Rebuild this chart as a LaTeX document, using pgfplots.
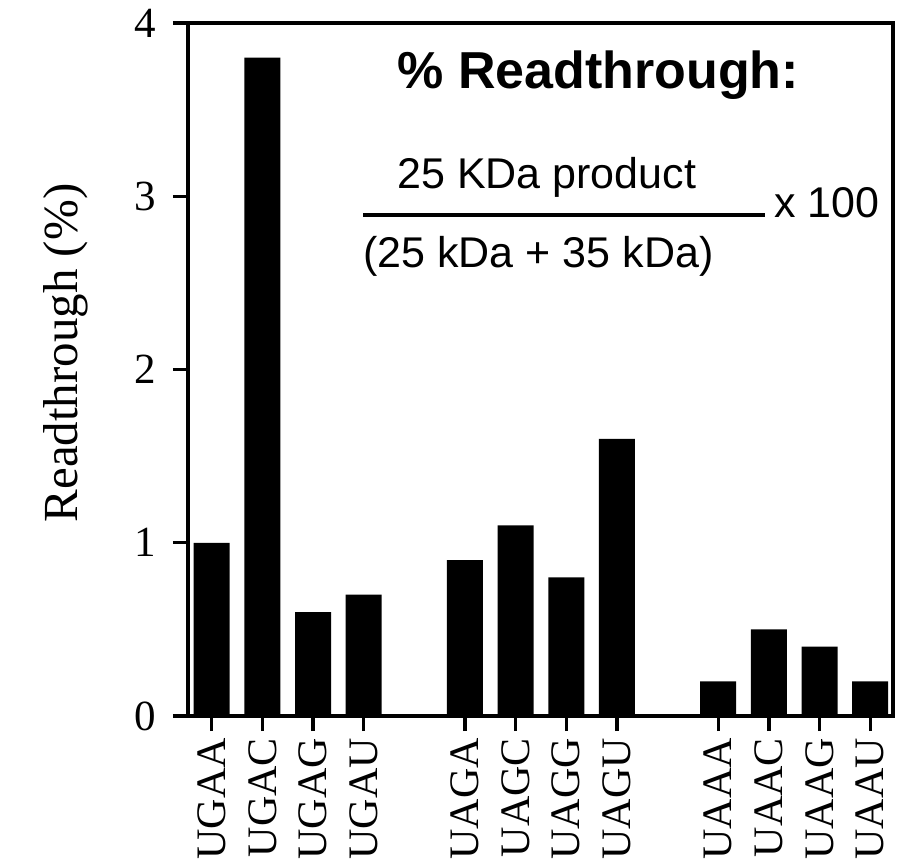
\documentclass[border=0pt]{standalone}
\usepackage{pgfplots}
\pgfplotsset{compat=1.18}
\usepackage{fontspec}
\setmainfont{Liberation Serif}
\newfontfamily\arial{Liberation Sans}

\begin{document}
\begin{tikzpicture}
\useasboundingbox (-94pt,-73.5pt) rectangle (355.5pt,358pt);
\begin{axis}[
  at={(0pt,0pt)}, anchor=south west,
  scale only axis,
  width=352.5pt, height=346.5pt,
  xmin=-0.468, xmax=13.45, ymin=0, ymax=4,
  enlargelimits=false,
  ybar, bar width=18pt,
  axis line style={line width=1.6pt},
  xtick=data,
  xticklabels={UGAA,UGAC,UGAG,UGAU,UAGA,UAGC,UAGG,UAGU,UAAA,UAAC,UAAG,UAAU},
  ytick={0,1,2,3,4},
  xtick pos=lower, ytick pos=left,
  tick align=outside, major tick length=7.5pt,
  tick style={line width=1.6pt, black},
  xticklabel style={rotate=90, anchor=east, font=\fontsize{21}{21}\selectfont},
  yticklabel style={font=\fontsize{21.5}{21.5}\selectfont, xshift=-5pt},
  /pgf/number format/assume math mode=true,
]
\addplot[fill=black, draw=none] coordinates {(0,1.0) (1,3.8) (2,0.6) (3,0.7) (5,0.9) (6,1.1) (7,0.8) (8,1.6) (10,0.2) (11,0.5) (12,0.4) (13,0.2)};
\end{axis}
% y label
\node[rotate=90, anchor=base, inner sep=0pt, font=\fontsize{24.5}{24.5}\selectfont] at (-55pt,181.5pt) {Readthrough (\%)};
% formula inset
\node[anchor=base west, inner sep=0pt, font=\arial\bfseries\fontsize{26}{26}\selectfont] at (104.5pt,313.5pt) {\% Readthrough:};
\node[anchor=base west, inner sep=0pt, font=\arial\fontsize{21.5}{21.5}\selectfont] at (104.5pt,263.5pt) {25 KDa product};
\draw[line width=2pt] (87.5pt,250.5pt) -- (288.5pt,250.5pt);
\node[anchor=base west, inner sep=0pt, font=\arial\fontsize{21.5}{21.5}\selectfont] at (293pt,249.25pt) {x 100};
\node[anchor=base west, inner sep=0pt, font=\arial\fontsize{21.5}{21.5}\selectfont] at (87.5pt,224.25pt) {(25 kDa + 35 kDa)};
\end{tikzpicture}
\end{document}
